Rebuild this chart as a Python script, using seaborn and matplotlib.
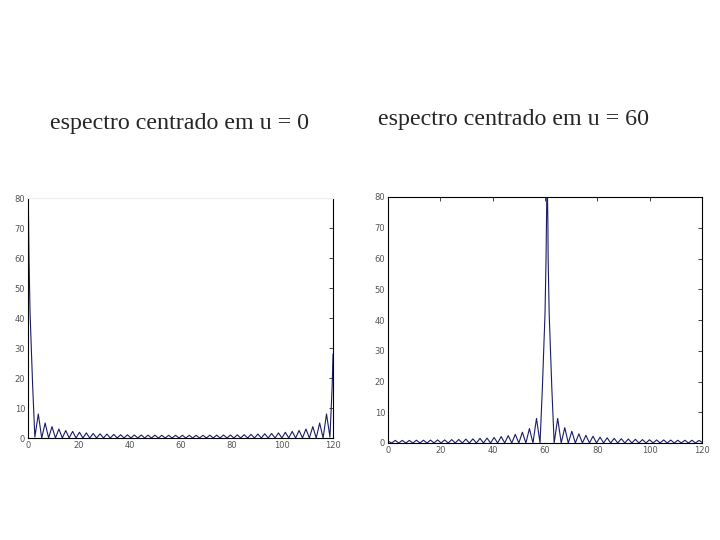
import matplotlib
matplotlib.use("Agg")
import matplotlib.pyplot as plt
import seaborn as sns

# espectro centrado em u = 0
u0_x = [0, 0.4, 0.8, 1.3, 1.8, 2.2, 2.7,
        4.05, 5.4, 6.75, 8.1, 9.45, 10.8, 12.15, 13.5, 14.85, 16.2, 17.55, 18.9,
        20.25, 21.6, 22.95, 24.3, 25.65, 27.0, 28.35, 29.7, 31.05, 32.4, 33.75, 35.1,
        36.45, 37.8, 39.15, 40.5, 41.85, 43.2, 44.55, 45.9, 47.25, 48.6, 49.95, 51.3,
        52.65, 54.0, 55.35, 56.7, 58.05, 59.4, 60.75, 62.1, 63.45, 64.8, 66.15, 67.5,
        68.85, 70.2, 71.55, 72.9, 74.25, 75.6, 76.95, 78.3, 79.65, 81.0, 82.35, 83.7,
        85.05, 86.4, 87.75, 89.1, 90.45, 91.8, 93.15, 94.5, 95.85, 97.2, 98.55, 99.9,
        101.25, 102.6, 103.95, 105.3, 106.65, 108.0, 109.35, 110.7, 112.05, 113.4,
        114.75, 116.1, 117.45, 118.8, 119.3, 119.7, 120.0]
u0_y = [88, 60, 42, 30, 18, 10, 0.3,
        8.0, 0, 5.0, 0, 3.8, 0, 3.0, 0, 2.5, 0, 2.2, 0,
        1.9, 0, 1.7, 0, 1.5, 0, 1.4, 0, 1.3, 0, 1.2, 0,
        1.1, 0, 1.05, 0, 1.0, 0, 1.0, 0, 0.95, 0, 0.95, 0,
        0.9, 0, 0.9, 0, 0.9, 0, 0.9, 0, 0.9, 0, 0.9, 0,
        0.9, 0, 0.95, 0, 0.95, 0, 1.0, 0, 1.0, 0, 1.05, 0,
        1.1, 0, 1.2, 0, 1.3, 0, 1.4, 0, 1.5, 0, 1.7, 0,
        1.9, 0, 2.2, 0, 2.5, 0, 3.0, 0, 3.8, 0,
        5.0, 0, 8.0, 0.3, 10, 18, 28]

# espectro centrado em u = 60
u60_x = [0, 1.4, 2.75, 4.1, 5.45, 6.8, 8.15, 9.5, 10.85, 12.2, 13.55, 14.9, 16.25,
         17.6, 18.95, 20.3, 21.65, 23.0, 24.35, 25.7, 27.05, 28.4, 29.75, 31.1, 32.45,
         33.8, 35.15, 36.5, 37.85, 39.2, 40.55, 41.9, 43.25, 44.6, 45.95, 47.3, 48.65,
         50.0, 51.35, 52.7, 54.05, 55.4, 56.75, 58.1,
         58.6, 59.0, 59.5, 60.0, 60.4, 60.8, 61.1, 61.2, 61.6, 62.1, 62.6, 63.0, 63.5,
         64.85, 66.2, 67.55, 68.9, 70.25, 71.6, 72.95, 74.3, 75.65, 77.0, 78.35, 79.7,
         81.05, 82.4, 83.75, 85.1, 86.45, 87.8, 89.15, 90.5, 91.85, 93.2, 94.55, 95.9,
         97.25, 98.6, 99.95, 101.3, 102.65, 104.0, 105.35, 106.7, 108.05, 109.4,
         110.75, 112.1, 113.45, 114.8, 116.15, 117.5, 118.85, 120.0]
u60_y = [0.6, 0, 0.85, 0, 0.85, 0, 0.85, 0, 0.9, 0, 0.9, 0, 0.95,
         0, 1.0, 0, 1.0, 0, 1.1, 0, 1.15, 0, 1.25, 0, 1.35,
         0, 1.5, 0, 1.6, 0, 1.8, 0, 2.1, 0, 2.4, 0, 2.8,
         0, 3.5, 0, 4.7, 0, 8.0, 0,
         10, 18, 30, 42, 60, 88, 72, 60, 42, 30, 18, 10, 0,
         8.0, 0, 5.0, 0, 3.8, 0, 3.0, 0, 2.5, 0, 2.2, 0,
         1.9, 0, 1.7, 0, 1.5, 0, 1.4, 0, 1.3, 0, 1.2, 0,
         1.1, 0, 1.05, 0, 1.0, 0, 1.0, 0, 0.95, 0,
         0.9, 0, 0.9, 0, 0.9, 0, 0.85, 0.2]

titulos = ["espectro centrado em u = 0", "espectro centrado em u = 60"]
x_ticks = [0, 20, 40, 60, 80, 100, 120]
y_ticks = [0, 10, 20, 30, 40, 50, 60, 70, 80]

sns.set_style("white")
cor_linha = "#1c1c66"

fig = plt.figure(figsize=(7.2, 5.4), dpi=100)
ax1 = fig.add_axes([28 / 720, 102 / 540, 305 / 720, 240 / 540])
ax2 = fig.add_axes([388 / 720, 97 / 540, 314 / 720, 246 / 540])

for ax, xs, ys in [(ax1, u0_x, u0_y), (ax2, u60_x, u60_y)]:
    sns.lineplot(x=xs, y=ys, ax=ax, color=cor_linha, linewidth=0.8)
    ax.set_xlim(0, 120)
    ax.set_ylim(0, 80)
    ax.set_xticks(x_ticks)
    ax.set_yticks(y_ticks)
    ax.tick_params(direction="in", length=3, width=0.6, labelsize=6,
                   labelcolor="#555555", pad=2, top=True, right=True)
    for s in ax.spines.values():
        s.set_color("black")
        s.set_linewidth(0.8)

# no grafico da esquerda o contorno de cima quase nao aparece
ax1.spines["top"].set_color("#eeeeee")
ax1.tick_params(top=False)

fig.text(180 / 720, 1 - 123 / 540, titulos[0], ha="center", va="center",
         fontsize=17.3, family="Liberation Serif")
fig.text(513 / 720, 1 - 120 / 540, titulos[1], ha="center", va="center",
         fontsize=17.3, family="Liberation Serif")

fig.savefig("out.png", dpi=100)
